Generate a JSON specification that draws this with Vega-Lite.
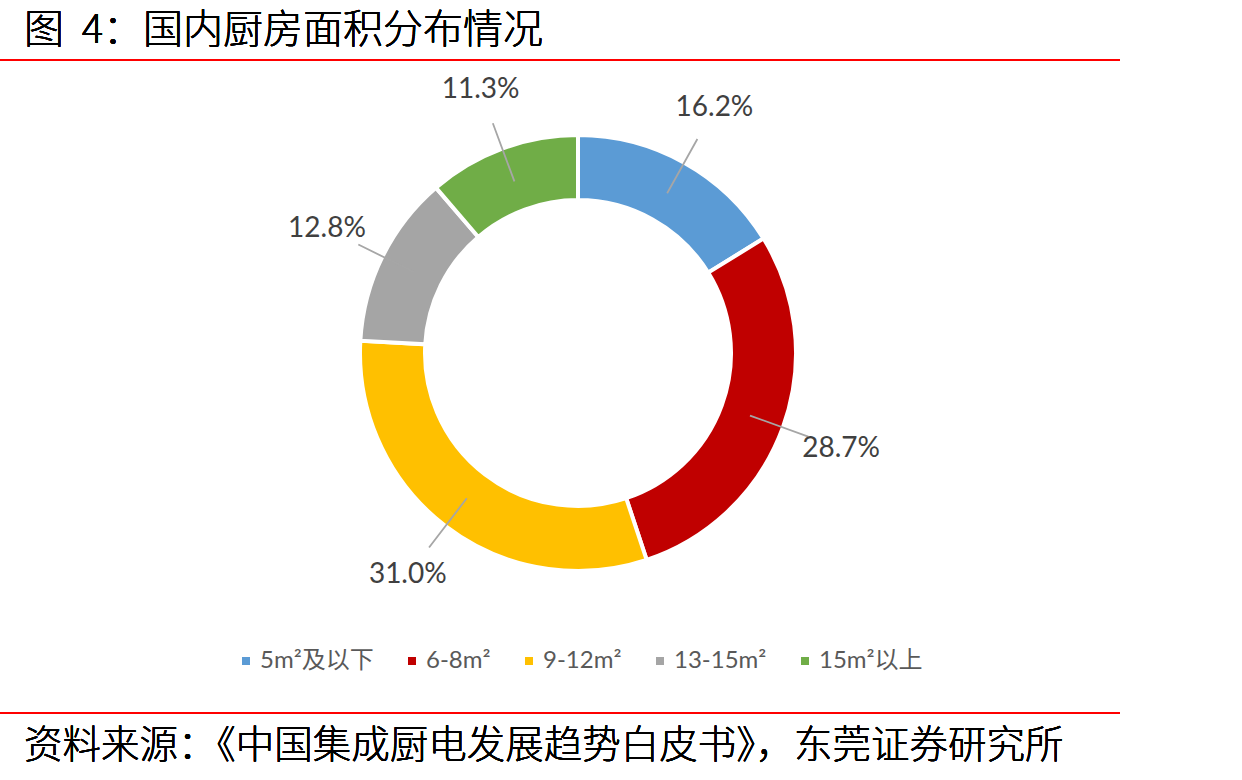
{
  "$schema": "https://vega.github.io/schema/vega-lite/v6.json",
  "width": 1156,
  "height": 706,
  "autosize": {"type": "none"},
  "padding": {"left": 0, "top": 0, "right": 86, "bottom": 74},
  "background": "white",
  "config": {"view": {"stroke": null}},
  "data": {
    "values": [
      {"category": "5m²及以下", "share": 16.2, "label": "16.2%", "order": 1},
      {"category": "6-8m²", "share": 28.7, "label": "28.7%", "order": 2},
      {"category": "9-12m²", "share": 31.0, "label": "31.0%", "order": 3},
      {"category": "13-15m²", "share": 12.8, "label": "12.8%", "order": 4},
      {"category": "15m²以上", "share": 11.3, "label": "11.3%", "order": 5}
    ]
  },
  "layer": [
    {
      "mark": {"type": "arc", "innerRadius": 153, "outerRadius": 218, "stroke": "white", "strokeWidth": 4},
      "encoding": {
        "theta": {"field": "share", "type": "quantitative", "stack": true},
        "order": {"field": "order", "type": "quantitative"},
        "color": {
          "field": "category",
          "type": "nominal",
          "sort": ["5m²及以下", "6-8m²", "9-12m²", "13-15m²", "15m²以上"],
          "scale": {
            "domain": ["5m²及以下", "6-8m²", "9-12m²", "13-15m²", "15m²以上"],
            "range": ["#5B9BD5", "#C00000", "#FFC000", "#A5A5A5", "#70AD47"]
          },
          "legend": {
            "title": null,
            "orient": "none",
            "legendX": 234,
            "legendY": 649,
            "direction": "horizontal",
            "symbolType": "square",
            "symbolSize": 64,
            "symbolStrokeWidth": 0,
            "labelFont": "Lato, Noto Sans CJK SC",
            "labelFontSize": 24,
            "labelColor": "#595959",
            "labelOffset": 2,
            "columnPadding": 26,
            "labelLimit": 300
          }
        }
      }
    },
    {
      "mark": {"type": "arc", "innerRadius": 183, "outerRadius": 245, "padAngle": 3, "filled": false, "stroke": "#A6A6A6", "strokeWidth": 1.8},
      "encoding": {
        "theta": {"field": "share", "type": "quantitative", "stack": true},
        "order": {"field": "order", "type": "quantitative"}
      }
    },
    {
      "mark": {"type": "text", "radius": 280, "font": "Lato", "fontSize": 28, "color": "#404040", "align": "center", "baseline": "middle"},
      "encoding": {
        "theta": {"field": "share", "type": "quantitative", "stack": true},
        "order": {"field": "order", "type": "quantitative"},
        "text": {"field": "label", "type": "nominal"}
      }
    },
    {
      "mark": {"type": "text", "text": "图\u00a0\u00a04：国内厨房面积分布情况", "font": "Noto Sans CJK SC", "fontWeight": 300, "fontSize": 40, "color": "#000000", "align": "left", "baseline": "middle"},
      "encoding": {"x": {"value": 24}, "y": {"value": 31}}
    },
    {
      "mark": {"type": "rule", "color": "#FF0000", "strokeWidth": 1.5},
      "encoding": {"x": {"value": 0}, "x2": {"value": 1120}, "y": {"value": 60}}
    },
    {
      "mark": {"type": "rule", "color": "#FF0000", "strokeWidth": 1.5},
      "encoding": {"x": {"value": 0}, "x2": {"value": 1120}, "y": {"value": 713}}
    },
    {
      "mark": {"type": "text", "text": "资料来源：《中国集成厨电发展趋势白皮书》，东莞证券研究所", "font": "Noto Sans CJK SC", "fontWeight": 300, "fontSize": 38.5, "color": "#000000", "align": "left", "baseline": "middle"},
      "encoding": {"x": {"value": 24}, "y": {"value": 746}}
    }
  ]
}
